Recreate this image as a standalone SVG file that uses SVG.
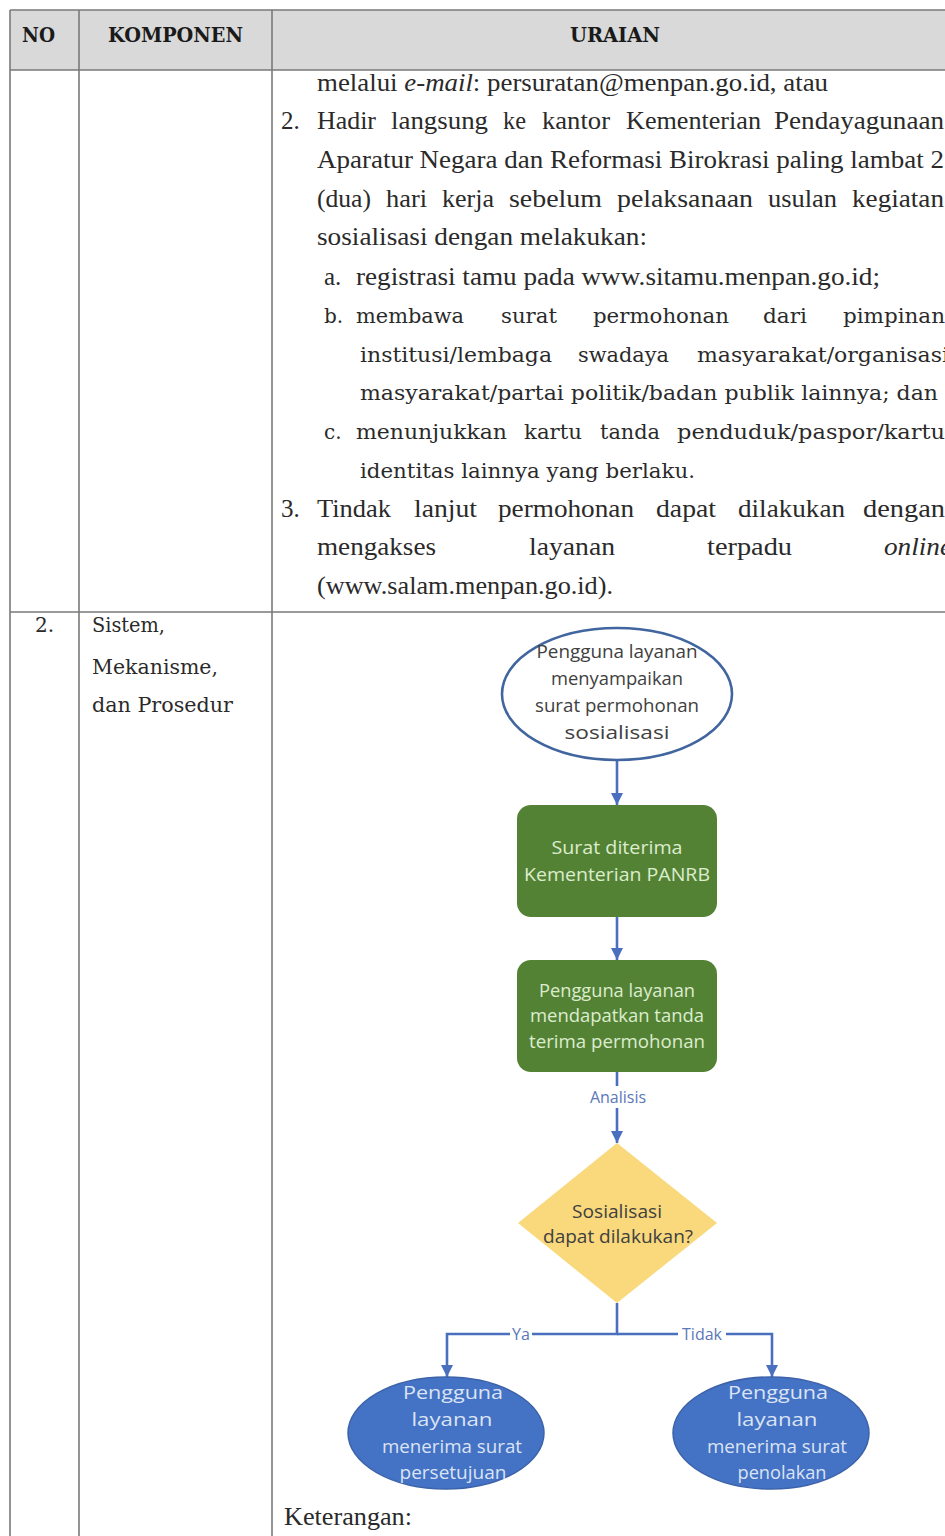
<svg xmlns="http://www.w3.org/2000/svg" width="945" height="1536" viewBox="0 0 945 1536">
<style>
.grid{stroke:#7a7a7a;stroke-width:1.6;fill:none}
.h{font-family:"DejaVu Serif",serif;font-weight:bold;font-size:20px;fill:#1a1a1a}
.c{font-family:"Liberation Serif","Times New Roman",serif;font-size:25px;fill:#2a2a2a}
.b{font-family:"DejaVu Serif",serif;font-size:20px;fill:#2a2a2a}
.f{font-family:"Open Sans","Noto Sans",sans-serif;font-size:17.5px;text-anchor:middle}
.dk{fill:#404040}
.gt{fill:#dcedce}
.bt{fill:#dbe4f4}
.lbl{font-family:"Open Sans","Noto Sans",sans-serif;font-size:16px;fill:#5b78b8;text-anchor:middle}
.con{stroke:#4a6fbf;stroke-width:2.6;fill:none}
</style>
<defs>
<marker id="ah" markerUnits="userSpaceOnUse" markerWidth="14" markerHeight="14" viewBox="0 0 14 14" refX="12" refY="7" orient="auto">
<path d="M0,1 L12,7 L0,13 Z" fill="#4a6fbf"/>
</marker>
</defs>
<rect width="945" height="1536" fill="#ffffff"/>

<g id="table">
<rect x="10" y="10" width="940" height="60" fill="#d9d9d9"/>
<path class="grid" d="M10,10 H945 M10,70 H945 M10,612 H945 M10,10 V1536 M79,10 V1536 M272,10 V1536"/>
<text class="h" x="22" y="42" textLength="33" lengthAdjust="spacingAndGlyphs">NO</text>
<text class="h" x="108" y="42" textLength="135" lengthAdjust="spacingAndGlyphs">KOMPONEN</text>
<text class="h" x="570" y="42" textLength="90" lengthAdjust="spacingAndGlyphs">URAIAN</text>
</g>

<g id="uraian-text">
<text class="c" x="317" y="91" textLength="511" lengthAdjust="spacingAndGlyphs">melalui <tspan font-style="italic">e-mail</tspan>: persuratan@menpan.go.id, atau</text>
<text class="c" x="281" y="129">2.</text>
<text class="c" x="317" y="129" textLength="59" lengthAdjust="spacingAndGlyphs">Hadir</text>
<text class="c" x="391" y="129" textLength="97" lengthAdjust="spacingAndGlyphs">langsung</text>
<text class="c" x="503" y="129" textLength="23" lengthAdjust="spacingAndGlyphs">ke</text>
<text class="c" x="542" y="129" textLength="68" lengthAdjust="spacingAndGlyphs">kantor</text>
<text class="c" x="626" y="129" textLength="135" lengthAdjust="spacingAndGlyphs">Kementerian</text>
<text class="c" x="774" y="129" textLength="170" lengthAdjust="spacingAndGlyphs">Pendayagunaan</text>
<text class="c" x="317" y="168" textLength="627" lengthAdjust="spacingAndGlyphs">Aparatur Negara dan Reformasi Birokrasi paling lambat 2</text>
<text class="c" x="317" y="207" textLength="54" lengthAdjust="spacingAndGlyphs">(dua)</text>
<text class="c" x="386" y="207" textLength="41" lengthAdjust="spacingAndGlyphs">hari</text>
<text class="c" x="442" y="207" textLength="52" lengthAdjust="spacingAndGlyphs">kerja</text>
<text class="c" x="509" y="207" textLength="93" lengthAdjust="spacingAndGlyphs">sebelum</text>
<text class="c" x="617" y="207" textLength="136" lengthAdjust="spacingAndGlyphs">pelaksanaan</text>
<text class="c" x="768" y="207" textLength="69" lengthAdjust="spacingAndGlyphs">usulan</text>
<text class="c" x="852" y="207" textLength="92" lengthAdjust="spacingAndGlyphs">kegiatan</text>
<text class="c" x="317" y="245" textLength="330" lengthAdjust="spacingAndGlyphs">sosialisasi dengan melakukan:</text>
<text class="c" x="324" y="285">a.</text>
<text class="c" x="356" y="285" textLength="524" lengthAdjust="spacingAndGlyphs">registrasi tamu pada www.sitamu.menpan.go.id;</text>
<text class="b" x="324" y="323">b.</text>
<text class="b" x="356" y="323" textLength="108" lengthAdjust="spacingAndGlyphs">membawa</text>
<text class="b" x="501" y="323" textLength="56" lengthAdjust="spacingAndGlyphs">surat</text>
<text class="b" x="593" y="323" textLength="136" lengthAdjust="spacingAndGlyphs">permohonan</text>
<text class="b" x="763" y="323" textLength="44" lengthAdjust="spacingAndGlyphs">dari</text>
<text class="b" x="843" y="323" textLength="102" lengthAdjust="spacingAndGlyphs">pimpinan</text>
<text class="b" x="360" y="362" textLength="192" lengthAdjust="spacingAndGlyphs">institusi/lembaga</text>
<text class="b" x="578" y="362" textLength="91" lengthAdjust="spacingAndGlyphs">swadaya</text>
<text class="b" x="697" y="362" textLength="252" lengthAdjust="spacingAndGlyphs">masyarakat/organisasi</text>
<text class="b" x="360" y="400" textLength="578" lengthAdjust="spacingAndGlyphs">masyarakat/partai politik/badan publik lainnya; dan</text>
<text class="b" x="324" y="439">c.</text>
<text class="b" x="356" y="439" textLength="151" lengthAdjust="spacingAndGlyphs">menunjukkan</text>
<text class="b" x="524" y="439" textLength="58" lengthAdjust="spacingAndGlyphs">kartu</text>
<text class="b" x="600" y="439" textLength="60" lengthAdjust="spacingAndGlyphs">tanda</text>
<text class="b" x="677" y="439" textLength="268" lengthAdjust="spacingAndGlyphs">penduduk/paspor/kartu</text>
<text class="b" x="360" y="478" textLength="335" lengthAdjust="spacingAndGlyphs">identitas lainnya yang berlaku.</text>
<text class="c" x="281" y="517">3.</text>
<text class="c" x="317" y="517" textLength="74" lengthAdjust="spacingAndGlyphs">Tindak</text>
<text class="c" x="414" y="517" textLength="63" lengthAdjust="spacingAndGlyphs">lanjut</text>
<text class="c" x="498" y="517" textLength="136" lengthAdjust="spacingAndGlyphs">permohonan</text>
<text class="c" x="656" y="517" textLength="60" lengthAdjust="spacingAndGlyphs">dapat</text>
<text class="c" x="738" y="517" textLength="107" lengthAdjust="spacingAndGlyphs">dilakukan</text>
<text class="c" x="863" y="517" textLength="82" lengthAdjust="spacingAndGlyphs">dengan</text>
<text class="c" x="317" y="555" textLength="119" lengthAdjust="spacingAndGlyphs">mengakses</text>
<text class="c" x="529" y="555" textLength="86" lengthAdjust="spacingAndGlyphs">layanan</text>
<text class="c" x="707" y="555" textLength="85" lengthAdjust="spacingAndGlyphs">terpadu</text>
<text class="c" x="884" y="555" font-style="italic" textLength="68" lengthAdjust="spacingAndGlyphs">online</text>
<text class="c" x="317" y="594" textLength="296" lengthAdjust="spacingAndGlyphs">(www.salam.menpan.go.id).</text>
</g>

<g id="komponen-2">
<text class="b" x="35" y="632">2.</text>
<text class="b" x="92" y="632" textLength="73" lengthAdjust="spacingAndGlyphs">Sistem,</text>
<text class="b" x="92" y="674" textLength="126" lengthAdjust="spacingAndGlyphs">Mekanisme,</text>
<text class="b" x="92" y="712" textLength="141" lengthAdjust="spacingAndGlyphs">dan Prosedur</text>
</g>

<g id="connectors">
<line class="con" x1="617" y1="760" x2="617" y2="805" marker-end="url(#ah)"/>
<line class="con" x1="617" y1="917" x2="617" y2="960" marker-end="url(#ah)"/>
<line class="con" x1="617" y1="1072" x2="617" y2="1143" marker-end="url(#ah)"/>
<path class="con" d="M617,1303 V1334 H447 V1377" marker-end="url(#ah)"/>
<path class="con" d="M617,1334 H772 V1377" marker-end="url(#ah)"/>
<rect x="582" y="1086" width="72" height="22" fill="#ffffff"/>
<text class="lbl" x="618" y="1103">Analisis</text>
<rect x="510" y="1324" width="22" height="20" fill="#ffffff"/>
<text class="lbl" x="521" y="1340">Ya</text>
<rect x="678" y="1324" width="48" height="20" fill="#ffffff"/>
<text class="lbl" x="702" y="1340">Tidak</text>
</g>

<g id="node-start">
<ellipse cx="617" cy="694" rx="115" ry="66" fill="#ffffff" stroke="#41659e" stroke-width="2.6"/>
<text class="f dk" x="617" y="658" textLength="161" lengthAdjust="spacingAndGlyphs">Pengguna layanan</text>
<text class="f dk" x="617" y="685" textLength="132" lengthAdjust="spacingAndGlyphs">menyampaikan</text>
<text class="f dk" x="617" y="712" textLength="164" lengthAdjust="spacingAndGlyphs">surat permohonan</text>
<text class="f dk" x="617" y="739" textLength="105" lengthAdjust="spacingAndGlyphs">sosialisasi</text>
</g>

<g id="node-diterima">
<rect x="517" y="805" width="200" height="112" rx="14" fill="#548235"/>
<text class="f gt" x="617" y="854" textLength="131" lengthAdjust="spacingAndGlyphs">Surat diterima</text>
<text class="f gt" x="617" y="881" textLength="186" lengthAdjust="spacingAndGlyphs">Kementerian PANRB</text>
</g>

<g id="node-tanda-terima">
<rect x="517" y="960" width="200" height="112" rx="14" fill="#548235"/>
<text class="f gt" x="617" y="997" textLength="156" lengthAdjust="spacingAndGlyphs">Pengguna layanan</text>
<text class="f gt" x="617" y="1022" textLength="174" lengthAdjust="spacingAndGlyphs">mendapatkan tanda</text>
<text class="f gt" x="617" y="1048" textLength="176" lengthAdjust="spacingAndGlyphs">terima permohonan</text>
</g>

<g id="node-keputusan">
<path d="M617,1143 L717,1223 L617,1303 L518,1223 Z" fill="#f9d97c"/>
<text class="f dk" x="617" y="1218" textLength="90" lengthAdjust="spacingAndGlyphs">Sosialisasi</text>
<text class="f dk" x="618" y="1243" textLength="150" lengthAdjust="spacingAndGlyphs">dapat dilakukan?</text>
</g>

<g id="node-persetujuan">
<ellipse cx="446" cy="1433" rx="98" ry="56" fill="#4472c4" stroke="#3c63aa" stroke-width="1.5"/>
<text class="f bt" x="453" y="1399" textLength="100" lengthAdjust="spacingAndGlyphs">Pengguna</text>
<text class="f bt" x="452" y="1426" textLength="81" lengthAdjust="spacingAndGlyphs">layanan</text>
<text class="f bt" x="452" y="1453" textLength="140" lengthAdjust="spacingAndGlyphs">menerima surat</text>
<text class="f bt" x="453" y="1479" textLength="107" lengthAdjust="spacingAndGlyphs">persetujuan</text>
</g>

<g id="node-penolakan">
<ellipse cx="771" cy="1433" rx="98" ry="56" fill="#4472c4" stroke="#3c63aa" stroke-width="1.5"/>
<text class="f bt" x="778" y="1399" textLength="100" lengthAdjust="spacingAndGlyphs">Pengguna</text>
<text class="f bt" x="777" y="1426" textLength="81" lengthAdjust="spacingAndGlyphs">layanan</text>
<text class="f bt" x="777" y="1453" textLength="140" lengthAdjust="spacingAndGlyphs">menerima surat</text>
<text class="f bt" x="782" y="1479" textLength="89" lengthAdjust="spacingAndGlyphs">penolakan</text>
</g>

<text class="c" x="284" y="1525" textLength="128" lengthAdjust="spacingAndGlyphs">Keterangan:</text>
</svg>
